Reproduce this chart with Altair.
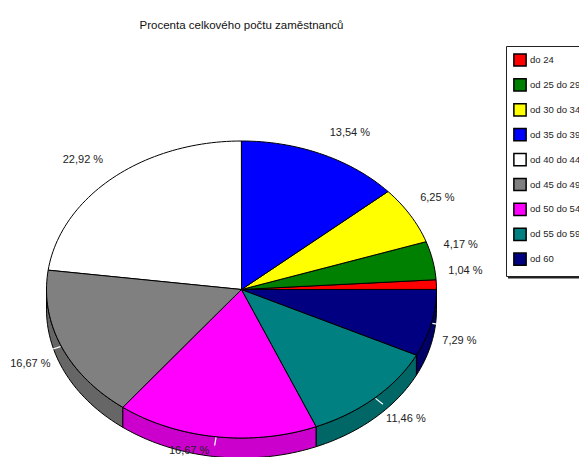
import math
import altair as alt

TITLE = "Procenta celkového počtu zaměstnanců"
FONT = "Liberation Sans"

# Slices in drawing order, counter-clockwise from the top of the pie
categories = ["od 40 do 44", "od 45 do 49", "od 50 do 54", "od 55 do 59", "od 60",
              "do 24", "od 25 do 29", "od 30 do 34", "od 35 do 39"]
shares = [22.92, 16.67, 16.67, 11.46, 7.29, 1.04, 4.17, 6.25, 13.54]
labels = ["22,92 %", "16,67 %", "16,67 %", "11,46 %", "7,29 %", "1,04 %", "4,17 %", "6,25 %", "13,54 %"]

legend_order = ["do 24", "od 25 do 29", "od 30 do 34", "od 35 do 39", "od 40 do 44",
                "od 45 do 49", "od 50 do 54", "od 55 do 59", "od 60"]
legend_colors = ["#ff0000", "#008000", "#ffff00", "#0000ff", "#ffffff",
                 "#808080", "#ff00ff", "#008080", "#000080"]
wall_colors = {"od 45 do 49": "#666666", "od 50 do 54": "#cc00cc",
               "od 55 do 59": "#006666", "od 60": "#000066"}

# Pixel offset of each label from the rim point at its slice's middle angle
label_dx = [-30, -31, -27, 31, 28, 29, 28, 27, 28]
label_dy = [-18, 18, 14, 21, 18, -14, -15, -17, -21]

RX, RY, DEPTH = 195.0, 148.5, 20.0


def rim(deg, r=1.0, drop=0.0):
    a = math.radians(deg)
    return [RX * r * math.cos(a), RY * r * math.sin(a) - drop]


def arc_points(a, b, drop=0.0):
    n = max(2, int(abs(b - a) / 1.5) + 1)
    return [rim(a + (b - a) * i / n, 1.0, drop) for i in range(n + 1)]


tops, walls, ticks, texts = [], [], [], []
angle = 90.0
for i, (cat, share) in enumerate(zip(categories, shares)):
    start = angle
    end = angle + share * 3.6
    mid = (start + end) / 2
    angle = end
    ring = [[0.0, 0.0]] + arc_points(start, end) + [[0.0, 0.0]]
    tops.append({"type": "Feature", "properties": {"name": cat},
                 "geometry": {"type": "Polygon", "coordinates": [ring]}})
    lo, hi = max(start, 180.0), min(end, 360.0)
    if cat in wall_colors and hi > lo:
        w = arc_points(lo, hi) + arc_points(hi, lo, DEPTH)
        w.append(w[0])
        walls.append({"type": "Feature", "properties": {"wall": wall_colors[cat]},
                      "geometry": {"type": "Polygon", "coordinates": [w]}})
        ticks.append({"type": "Feature", "properties": {"name": cat},
                      "geometry": {"type": "LineString",
                                   "coordinates": [rim(mid, 1.005), rim(mid, 1.06)]}})
    p = rim(mid)
    texts.append({"lon": p[0] + label_dx[i], "lat": p[1] - label_dy[i], "label": labels[i]})

projection = alt.Projection(type="identity", reflectY=True, scale=1, translate=[233.5, 241.5])


def geo(features):
    return alt.InlineData(values={"type": "FeatureCollection", "features": features},
                          format=alt.DataFormat(type="json", property="features"))


wall_layer = alt.Chart(geo(walls)).mark_geoshape(stroke="black", strokeWidth=1).encode(
    fill=alt.Fill("properties.wall:N", scale=None, legend=None))

top_layer = alt.Chart(geo(tops)).mark_geoshape(stroke="black", strokeWidth=1).encode(
    color=alt.Color(
        "properties.name:N",
        scale=alt.Scale(domain=legend_order, range=legend_colors),
        sort=legend_order,
        legend=alt.Legend(
            title=None, orient="none", legendX=498, legendY=-2,
            fillColor="white", strokeColor="#222222", padding=7,
            symbolType="square", symbolSize=150, symbolStrokeColor="black",
            symbolStrokeWidth=1.5, symbolOpacity=1,
            labelFont=FONT, labelFontSize=9.5, labelColor="#222222", labelOffset=3,
            labelLimit=200, rowPadding=4.9, values=legend_order,
        ),
    ))

tick_layer = alt.Chart(geo(ticks)).mark_geoshape(filled=False, stroke="white", strokeWidth=1.2).encode(
    detail="properties.name:N")

text_layer = alt.Chart(alt.Data(values=texts)).mark_text(
    font=FONT, fontSize=11, color="#222222", align="center", baseline="middle"
).encode(longitude="lon:Q", latitude="lat:Q", text="label:N")

shadow = alt.Chart(alt.Data(values=[{"k": 1}])).mark_rule(color="#222222", strokeWidth=3).encode(
    x=alt.value(500), x2=alt.value(571), y=alt.value(229))

chart = alt.layer(shadow, wall_layer, top_layer, tick_layer, text_layer, projection=projection).properties(
    width=571, height=409,
    padding={"left": 0, "top": 40, "right": 0, "bottom": 0},
    autosize=alt.AutoSizeParams(type="none"),
    title=alt.Title(TITLE, font=FONT, fontSize=11.5, fontWeight="normal", color="#111111",
                    anchor="middle", dx=-52, offset=14),
).configure_view(stroke=None)

chart.save("out.html", embed_options={"renderer": "svg", "actions": False})
